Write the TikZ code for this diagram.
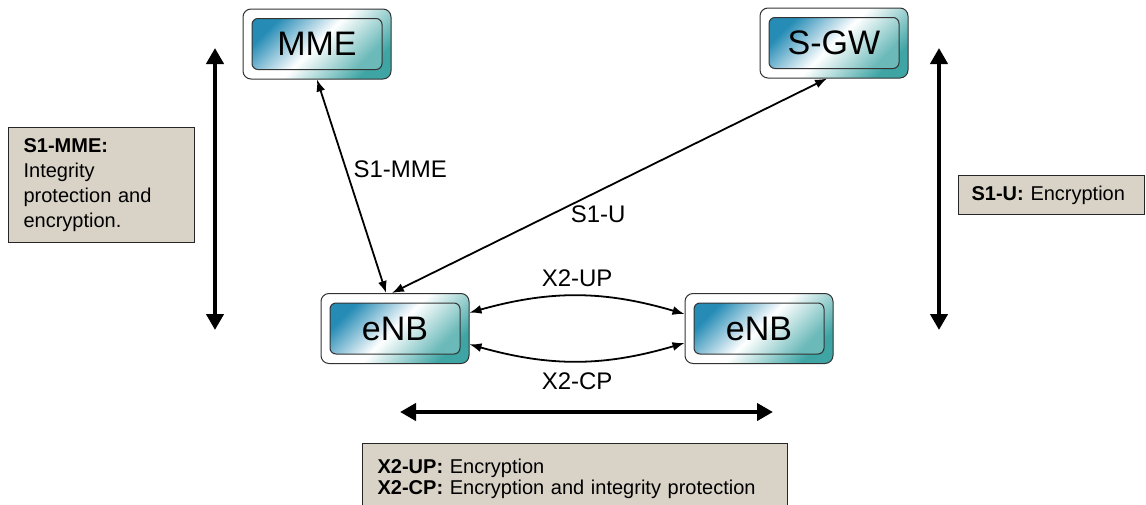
\documentclass[tikz,border=0pt]{standalone}
\usepackage{fontspec}
\setmainfont{Liberation Sans}
\usetikzlibrary{arrows.meta}

\definecolor{boxblue}{RGB}{38,140,182}
\definecolor{boxteal}{RGB}{28,148,148}
\definecolor{notefill}{RGB}{217,211,199}

\tikzset{
	outerbox/.style={draw=black!80, line width=0.5pt, rounded corners=4pt, minimum width=74pt, minimum height=35pt,
		left color=white, right color=boxteal!85, middle color=white, shading angle=45},
	innerbox/.style={draw=black!80, line width=0.5pt, rounded corners=3pt, minimum width=65pt, minimum height=25.5pt,
		left color=boxblue, right color=boxteal!65!white, middle color=white, shading angle=45, font=\fontsize{17}{19}\selectfont},
	link/.style={line width=0.9pt, {Latex[length=6pt,width=4.5pt]}-{Latex[length=6pt,width=4.5pt]}},
	rangearrow/.style={line width=2.4pt, {Triangle[length=8pt,width=8.5pt]}-{Triangle[length=8pt,width=8.5pt]}},
	note/.style={draw=black!85, line width=0.6pt, fill=notefill, align=left, anchor=north west, inner xsep=7.5pt}
}

\begin{document}
\begin{tikzpicture}[x=0.5pt, y=-0.5pt, font=\fontsize{12}{14}\selectfont]
	\useasboundingbox (0,0) rectangle (1146,504);

	% network elements
	\node[outerbox] (mme) at (317,44) {};
	\node[innerbox] (mmetext) at (mme) {MME};
	\node[outerbox] (sgw) at (834,43) {};
	\node[innerbox] (sgwtext) at (sgw) {S-GW};
	\node[outerbox] (enbA) at (395,328.5) {};
	\node[innerbox] (enbAtext) at (enbA) {eNB};
	\node[outerbox] (enbB) at (759,328.5) {};
	\node[innerbox] (enbBtext) at (enbB) {eNB};

	% interfaces
	\draw[link] (mme.south) -- node[pos=0.42, right] {S1-MME} (enbA.104);
	\draw[link] (sgw.-101) -- node[pos=0.54, below, xshift=3pt, yshift=-2pt] {S1-U} (enbA.95);
	\draw[link] (enbA.12) to[bend left=16] node[above, yshift=1pt] {X2-UP} (enbB.169);
	\draw[link] (enbA.-12) to[bend right=16] node[below, yshift=-2pt] {X2-CP} (enbB.191);

	% protection ranges
	\coordinate (mmetop) at (215,48);
	\coordinate (mmebot) at (215,330);
	\coordinate (sgwtop) at (939,48);
	\coordinate (sgwbot) at (939,330);
	\coordinate (x2left) at (400,412);
	\coordinate (x2right) at (773,412);
	\draw[rangearrow] (mmetop) -- (mmebot);
	\draw[rangearrow] (sgwtop) -- (sgwbot);
	\draw[rangearrow] (x2left) -- (x2right);

	\node[note, text width=78pt, minimum height=57.5pt, font=\fontsize{10}{12.5}\selectfont] (mmenote) at (8,127)
		{\textbf{S1-MME:}\\Integrity\\protection and\\encryption.};
	\node[note, text width=80pt, minimum height=19.5pt, inner xsep=6.5pt, font=\fontsize{10}{12}\selectfont] (sgwnote) at (958,175)
		{\textbf{S1-U:} Encryption};
	\node[note, text width=197.5pt, inner ysep=7.5pt, font=\fontsize{10}{10.8}\selectfont] (x2note) at (362,443)
		{\textbf{X2-UP:} Encryption\\\textbf{X2-CP:} Encryption and integrity protection\\[6pt]};
\end{tikzpicture}
\end{document}
